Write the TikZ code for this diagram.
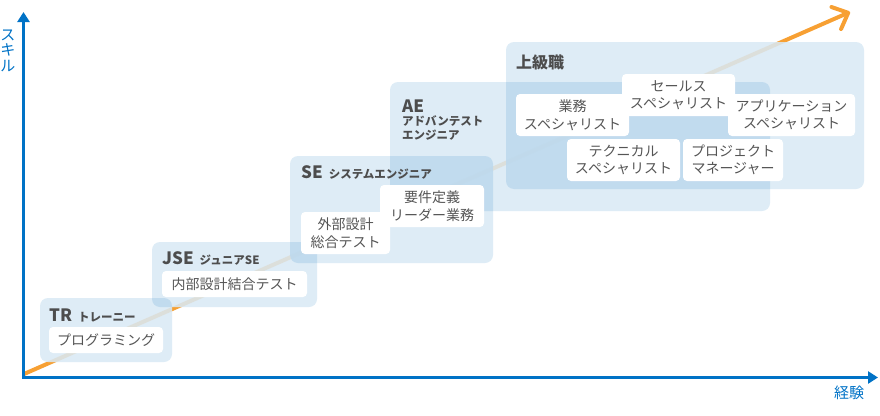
\documentclass[tikz,border=0pt]{standalone}
\usepackage{fontspec}
\setmainfont{Noto Sans CJK JP}
\usetikzlibrary{arrows.meta}
\definecolor{axisblue}{RGB}{0,114,198}
\definecolor{orangeline}{RGB}{247,160,51}
\definecolor{tint}{RGB}{22,122,195}
\definecolor{titlegray}{RGB}{77,77,77}
\definecolor{textgray}{RGB}{85,85,85}
\newcommand{\lvlbig}{\fontsize{17}{17}\selectfont\bfseries}
\newcommand{\lvlsmall}{\fontsize{11.5}{12}\selectfont\bfseries}
\begin{document}
\begin{tikzpicture}[x=1pt,y=-1pt,
  cover/.style={fill=white,fill opacity=0.85,rounded corners=8pt,inner sep=0pt,outer sep=0pt,anchor=north west},
  tintbox/.style={fill=tint,fill opacity=0.14,rounded corners=8pt},
  card/.style={fill=white,rounded corners=4pt,text=textgray,font=\fontsize{14}{17.5}\selectfont,align=center,inner sep=0pt,outer sep=0pt,anchor=north west},
  title/.style={text=titlegray,inner sep=0pt,anchor=base west},
  axis/.style={draw=axisblue,line width=2.5pt,-{Triangle[width=12pt,length=10pt]}},
  growth/.style={draw=orangeline,line width=4pt,line cap=round,-{Straight Barb[length=13pt,width=24pt,round]}},
  axislabel/.style={text=axisblue,font=\fontsize{15}{15.5}\selectfont,inner sep=0pt,align=center}]
\useasboundingbox (0,0) rectangle (880,415);

% growth arrow
\coordinate (gstart) at (24,374);
\coordinate (gend) at (850,12);
\draw[growth] (gstart) -- (gend);

% level boxes (white veil)
\node[cover,minimum width=132pt,minimum height=64pt] (tr) at (40,298) {};
\node[cover,minimum width=165pt,minimum height=65pt] (jse) at (152,242) {};
\node[cover,minimum width=203pt,minimum height=107pt] (se) at (290,156) {};
\node[cover,minimum width=380pt,minimum height=129pt] (ae) at (390,82) {};
\node[cover,minimum width=358pt,minimum height=147pt] (sr) at (506,42) {};

% level boxes (blue tint)
\foreach \b in {tr,jse,se,ae,sr}
  \fill[tintbox] (\b.north west) rectangle (\b.south east);

% titles
\node[title] (tr-t) at (49,321) {\lvlbig TR\hspace{6pt}\lvlsmall トレーニー};
\node[title] (jse-t) at (162,264) {\lvlbig JSE\hspace{6pt}\lvlsmall ジュニアSE};
\node[title] (se-t) at (301,178) {\lvlbig SE\hspace{6pt}\lvlsmall システムエンジニア};
\node[title] (ae-t) at (402,112) {\lvlbig AE};
\node[title] (ae-t2) at (402,125) {\lvlsmall アドバンテスト};
\node[title] (ae-t3) at (402,139) {\lvlsmall エンジニア};
\node[title] (sr-t) at (516,68) {\fontsize{16}{16}\selectfont\bfseries 上級職};

% cards
\node[card,minimum width=114pt,minimum height=26pt] (prog) at (49,327) {プログラミング};
\node[card,minimum width=145pt,minimum height=26pt] (naibu) at (162,271) {内部設計結合テスト};
\node[card,minimum width=104pt,minimum height=42pt] (youken) at (380,185) {要件定義\\リーダー業務};
\node[card,minimum width=89pt,minimum height=42pt] (gaibu) at (301,212) {外部設計\\総合テスト};
\node[card,minimum width=113pt,minimum height=42pt] (gyomu) at (516,94) {業務\\スペシャリスト};
\node[card,minimum width=127pt,minimum height=42pt] (app) at (728,94) {アプリケーション\\スペシャリスト};
\node[card,minimum width=113pt,minimum height=42pt] (sales) at (622,74) {セールス\\スペシャリスト};
\node[card,minimum width=113pt,minimum height=42pt] (tech) at (567,139) {テクニカル\\スペシャリスト};
\node[card,minimum width=100pt,minimum height=42pt] (pm) at (683,139) {プロジェクト\\マネージャー};

% axes
\coordinate (origin) at (23.5,377.5);
\coordinate (ytip) at (23.5,12);
\coordinate (xtip) at (878,377.5);
\draw[axis] (origin) -- (ytip);
\draw[axis] ([xshift=-1.25pt]origin) -- (xtip);
\node[axislabel] (ylab) at (8,50.5) {ス\\キ\\ル};
\node[axislabel] (xlab) at (849,393) {経験};
\end{tikzpicture}
\end{document}
